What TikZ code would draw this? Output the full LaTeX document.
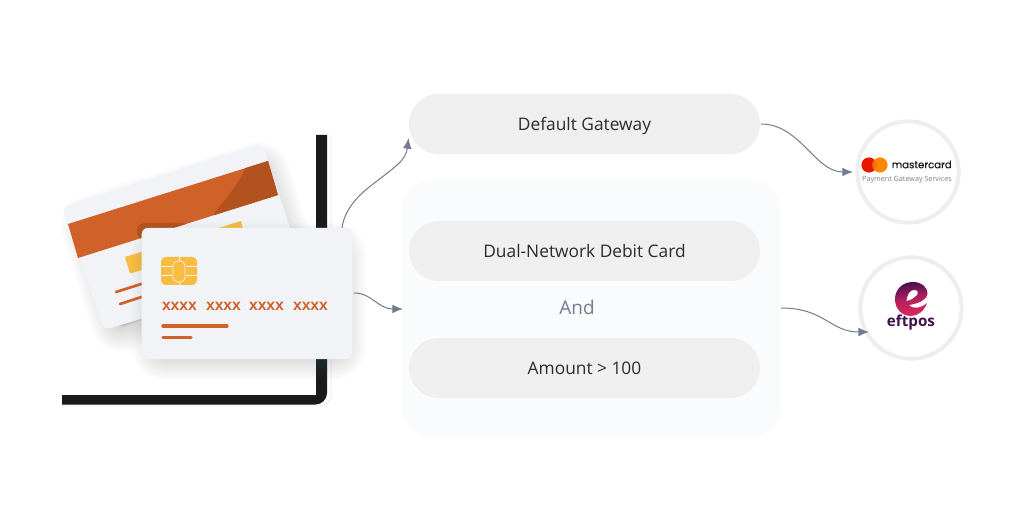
\documentclass[tikz,border=0pt]{standalone}
\usepackage{fontspec}
\setmainfont{Open Sans}
\newfontfamily\boldsans{Liberation Sans}[BoldFont={Liberation Sans Bold}]
\newfontfamily\geomfont{Poppins}[FakeBold=0.5]
\usetikzlibrary{arrows.meta,shapes.geometric}
\definecolor{cardface}{HTML}{F2F3F7}
\definecolor{stripe}{HTML}{D06129}
\definecolor{stripedark}{HTML}{B2521F}
\definecolor{chipy}{HTML}{F7BC40}
\definecolor{framek}{HTML}{1A1A1A}
\definecolor{pillg}{HTML}{EFEFEF}
\definecolor{boxg}{HTML}{FAFBFD}
\definecolor{linkc}{HTML}{737B8E}
\definecolor{ringg}{HTML}{EEEEEE}
\definecolor{inktext}{HTML}{2B2B2B}
\definecolor{shadowc}{HTML}{6F7F7F}
\definecolor{efdark}{HTML}{43104F}
\definecolor{efmid}{HTML}{B81F5C}
\definecolor{efpink}{HTML}{DB2B5A}
\tikzset{
  x=0.75pt,y=-0.75pt,
  pillbox/.style={fill=pillg,minimum width=263.25pt,minimum height=45pt,rounded corners=22.4pt,inner sep=0pt,font=\fontsize{13}{16}\selectfont,text=inktext,text height=10pt,text depth=0pt},
  linkarrow/.style={draw=linkc,line width=0.75pt,-{Latex[length=8pt,width=6.5pt]}},
  ringnode/.style={circle,draw=ringg,line width=3pt,fill=white,minimum size=76pt,inner sep=0pt},
  barline/.style={draw=stripe,line width=2.4pt,line cap=round},
  xgroup/.style={font=\boldsans\bfseries\fontsize{11.8}{12}\selectfont,text=stripe,inner sep=0pt},
}
% #1 largest line width, #2 step, #3 opacity of a layer, #4 colour, #5 path
\newcommand{\softglow}[5]{%
  \pgfmathsetmacro{\nextw}{1+#2}%
  \foreach \w in {1,\nextw,...,#1}{
    \path[draw=#4,fill=#4,line join=round,line width=\w pt,draw opacity=#3,fill opacity=#3] #5;
  }
}
\begin{document}
\begin{tikzpicture}
\useasboundingbox (0,0) rectangle (1024,513);
\fill[white] (0,0) rectangle (1024,513);

% soft shadows round the pills and the group box
\softglow{50}{3}{0.0016}{black}{[rounded corners=16pt] (420,104) rectangle (775,148)}
\softglow{30}{3}{0.0010}{black}{[rounded corners=20pt] (405,183) rectangle (778,435)}
\fill[boxg,rounded corners=24pt] (402,179) rectangle (781,438);
\softglow{40}{3}{0.0016}{black}{[rounded corners=16pt] (420,231) rectangle (772,275)}
\softglow{40}{3}{0.0016}{black}{[rounded corners=16pt] (420,348) rectangle (772,392)}

% frame
\draw[black!6,line width=0.75pt] (331,135) -- (331,396) arc[start angle=0,end angle=90,radius=9] -- (62,405);
\path[fill=framek] (316,135) -- (327,135) -- (327,393) arc[start angle=0,end angle=90,radius=11.5] -- (62,404.5) -- (62,395) -- (316,395) -- cycle;

% back card
\softglow{40}{2}{0.012}{shadowc}{[rounded corners=4pt] (85,222) -- (262,166) -- (295,268) -- (118,328) -- cycle}
\path[fill=cardface,rounded corners=5pt] (62,207) -- (262,143) -- (304,270) -- (104,330) -- cycle;
\begin{scope}
  \clip (68,224) -- (268,161) -- (278,195) -- (78,258) -- cycle;
  \fill[stripe] (60,150) rectangle (300,270);
  \fill[stripedark] (248,160) .. controls (240,185) and (228,195) .. (213,215) -- (300,215) -- (300,150) -- cycle;
  \fill[stripedark,rounded corners=6pt] (137,240) -- (137,223) -- (190,223) -- (190,240) -- cycle;
\end{scope}
\fill[chipy] (125,257) -- (241,221) -- (246,240) -- (130,273.5) -- cycle;
\draw[barline,line width=2pt] (116,292) -- (160,278);
\draw[barline,line width=2pt] (120,304) -- (160,291);

% front card
\softglow{44}{2}{0.012}{shadowc}{[rounded corners=4pt] (160,250) rectangle (338,352)}
\node[fill=cardface,draw=black!5,line width=0.4pt,rounded corners=4.5pt,minimum width=157.5pt,minimum height=98pt,inner sep=0pt] (frontcard) at (247,293.5) {};

% chip
\fill[chipy,rounded corners=3.5pt] (161,257) rectangle (197,285);
\begin{scope}[draw=cardface,line width=0.55pt]
  \draw (161,266.5) -- (172,266.5) (161,275.5) -- (172,275.5) (186,266.5) -- (197,266.5) (186,275.5) -- (197,275.5);
  \draw[rounded corners=3.5pt,fill=chipy] (173,261) rectangle (185,282);
  \draw (179,257) -- (179,261) (179,282) -- (179,285);
\end{scope}

\node[xgroup] (xa) at (179.5,306.5) {xxxx};
\node[xgroup] (xb) at (223.5,306.5) {xxxx};
\node[xgroup] (xc) at (266.5,306.5) {xxxx};
\node[xgroup] (xd) at (310.5,306.5) {xxxx};
\draw[barline] (163,326) -- (227,326);
\draw[barline] (163,337.5) -- (191,337.5);

% pills
\node[pillbox] (gateway) at (584.5,124) {Default Gateway};
\node[pillbox] (dual) at (584.5,251) {Dual-Network Debit Card};
\node[pillbox] (amount) at (584.5,368) {Amount > 100};
\node[font=\fontsize{14.2}{16}\selectfont,text=linkc,inner sep=0pt] (andlabel) at (577,307) {And};

% rings
\node[ringnode] (mcring) at (908,172) {};
\node[ringnode] (efring) at (911,308) {};

% mastercard logo
\fill[red!80!orange!90!black] (869,165) circle[radius=7.6];
\fill[orange!85!yellow!92!red] (880,165) circle[radius=7.6];
\begin{scope}
  \clip (869,165) circle[radius=7.6];
  \fill[orange!85!red] (880,165) circle[radius=7.6];
\end{scope}
\node[anchor=west,inner sep=0pt,font=\geomfont\fontsize{7.6}{10}\selectfont,text=black!90] (mclabel) at (891.5,164.5) {mastercard};
\node[inner sep=0pt,font=\fontsize{5.4}{6}\selectfont,text=black!50] (mcsub) at (907,180) {Payment Gateway Services};

% eftpos logo
\path[top color=efdark,bottom color=efpink,middle color=efmid,shading angle=10]
  (927,303) .. controls (924,311) and (918,316) .. (911,316)
  .. controls (901,316) and (895,308) .. (895,299)
  .. controls (895,289) and (903,282) .. (913,282)
  .. controls (922,282) and (928,288) .. (927.5,294)
  .. controls (926,301) and (916,304) .. (909,305)
  .. controls (912,309) and (920,309) .. (927,303) -- cycle;
\fill[white] (906.5,301) .. controls (907,295) and (910,290) .. (914,290)
  .. controls (918,290) and (919,293) .. (916.5,295.5) .. controls (914,298) and (911,300) .. (906.5,301) -- cycle;
\node[inner sep=0pt,font=\fontsize{11.4}{13}\selectfont\bfseries,text=efdark] (eflabel) at (911,323) {eftpos};

% connectors
\coordinate (cardtop) at (342,228);
\coordinate (gatein) at (408.5,138);
\coordinate (cardright) at (354,293);
\coordinate (boxin) at (403,309);
\coordinate (gateout) at (761,124);
\coordinate (mcin) at (853,172);
\coordinate (boxout) at (781,308);
\coordinate (efin) at (869,332);
\draw[linkarrow] (cardtop) .. controls (345,205) and (365,190) .. (377,181) .. controls (395,167) and (406,160) .. (gatein);
\draw[linkarrow] (cardright) .. controls (372,293) and (378,309) .. (boxin);
\draw[linkarrow] (gateout) .. controls (800,124) and (815,172) .. (mcin);
\draw[linkarrow] (boxout) .. controls (825,308) and (830,332) .. (efin);
\end{tikzpicture}
\end{document}
